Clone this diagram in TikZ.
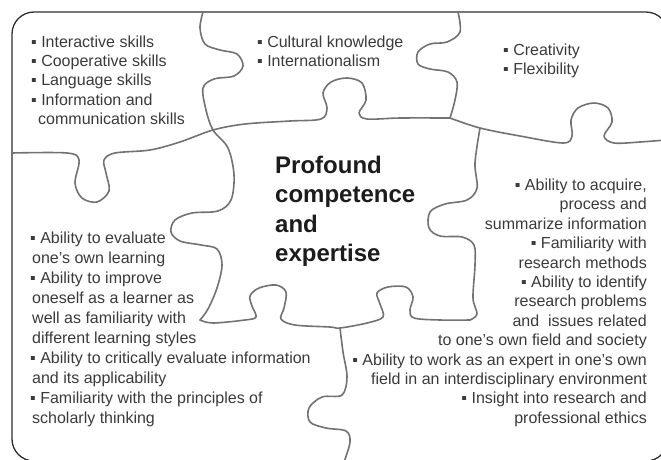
\documentclass[tikz,border=0pt]{standalone}
\usepackage{fontspec}
\setmainfont{Liberation Sans}
\definecolor{seamgray}{HTML}{727272}
\definecolor{outlinegray}{HTML}{2E2E2E}
\definecolor{bodytext}{HTML}{3A3A3A}
\definecolor{titletext}{HTML}{1C1C1C}
\begin{document}
\begin{tikzpicture}[x=1pt,y=-1pt,
  seam/.style={draw=seamgray, line width=1.6pt, line join=round, line cap=round},
  outline/.style={draw=outlinegray, line width=1.3pt},
  body/.style={inner sep=0pt, text=bodytext, font=\fontsize{16}{19}\selectfont},
  lt/.style={body, anchor=base west},
  rt/.style={body, anchor=base east},
  headline/.style={inner sep=0pt, anchor=base west, text=titletext,
    font=\fontsize{24}{29}\selectfont\bfseries}]

\useasboundingbox (0,0) rectangle (661,459);

% outer board, running off the right and bottom edges
\begin{scope}
  \clip (0,0) rectangle (661,459);
  \draw[outline, rounded corners=22pt] (12,12) rectangle (668,461);

  % seam between top-left and top-middle pieces, continuing as the centre's left edge
  \draw[seam] plot[smooth, tension=0.55] coordinates {
    (203,12) (200,28) (205,44) (220,50) (237,54) (243,66) (234,76) (214,79)
    (203,88) (206,110) (213,130) (228,148) (234,175) (231,200) (218,211)
    (192,213) (175,220) (171,232) (180,241) (201,245) (217,249) (222,265)
    (217,288) (208,309) (200,320)};

  % bottom edge of the centre piece
  \draw[seam] plot[smooth, tension=0.55] coordinates {
    (200,320) (213,323) (245,320) (256,317) (252,306) (250,296) (259,288)
    (276,285) (286,292) (284,308) (281,319) (295,325) (330,327) (340,328)
    (367,323) (383,317) (380,304) (377,293) (388,287) (406,287) (413,297)
    (410,310) (414,318) (440,320) (470,320)};

  % right edge of the centre piece
  \draw[seam] plot[smooth, tension=0.55] coordinates {
    (470,320) (477,314) (473,298) (475,265) (474,245) (462,237) (440,236)
    (429,228) (430,212) (445,204) (467,200) (477,188) (475,163) (480,128)};

  % long horizontal seam from the left border to the junction
  \draw[seam] plot[smooth, tension=0.55] coordinates {
    (12,153) (67,153) (79,160) (75,183) (82,198) (97,202) (109,191) (106,173)
    (104,160) (115,153) (150,150) (180,142) (213,130) (245,124) (290,121)
    (321,119) (327,108) (323,93) (331,82) (347,78) (362,83) (366,100)
    (359,113) (367,119) (400,118) (450,118)};

  % horizontal seam on the right
  \draw[seam] plot[smooth, tension=0.55] coordinates {
    (450,118) (480,128) (520,136) (563,143) (572,136) (571,120) (578,108)
    (594,103) (608,108) (612,122) (604,136) (614,143) (640,142) (665,140)};

  % seam between top-middle and top-right pieces
  \draw[seam] plot[smooth, tension=0.55] coordinates {
    (458,12) (460,32) (447,42) (430,44) (418,52) (418,64) (430,69) (448,72)
    (457,82) (455,100) (450,118)};

  % seam between the two bottom pieces
  \draw[seam] plot[smooth, tension=0.55] coordinates {
    (340,328) (343,352) (347,377) (342,395) (322,397) (309,408) (310,422)
    (326,428) (346,431) (350,442) (344,462)};
\end{scope}

% top-left piece
\node[lt] (tl1) at (31,47)    {▪ Interactive skills};
\node[lt] (tl2) at (31,66)    {▪ Cooperative skills};
\node[lt] (tl3) at (31,85.5)  {▪ Language skills};
\node[lt] (tl4) at (31,105)   {▪ Information and};
\node[lt] (tl5) at (38,124)   {communication skills};

% top-middle piece
\node[lt] (tm1) at (257,47)   {▪ Cultural knowledge};
\node[lt] (tm2) at (257,66.5) {▪ Internationalism};

% top-right piece
\node[lt] (tr1) at (503,55)   {▪ Creativity};
\node[lt] (tr2) at (503,74)   {▪ Flexibility};

% centre piece
\node[headline] (c1) at (275,173)   {Profound};
\node[headline] (c2) at (275,202.5) {competence};
\node[headline] (c3) at (275,232)   {and};
\node[headline] (c4) at (275,261)   {expertise};

% right piece
\node[rt] (r1)  at (647,190.5) {▪ Ability to acquire,};
\node[rt] (r2)  at (647,209.9) {process and\ };
\node[rt] (r3)  at (647,229.3) {summarize information};
\node[rt] (r4)  at (647,248.7) {▪ Familiarity with};
\node[rt] (r5)  at (647,268.1) {research methods};
\node[rt] (r6)  at (647,287.5) {▪ Ability to identify};
\node[rt] (r7)  at (647,306.9) {research problems};
\node[rt] (r8)  at (647,326.3) {and \ issues related};
\node[rt] (r9)  at (647,345.7) {to one's own field and society\ };
\node[rt] (r10) at (647,365.1) {▪ Ability to work as an expert in one's own};
\node[rt] (r11) at (647,384.5) {field in an interdisciplinary environment};
\node[rt] (r12) at (647,403.9) {▪ Insight into research and};
\node[rt] (r13) at (647,423.3) {professional ethics};

% left piece
\node[lt] (l1)  at (30,243) {▪ Ability to evaluate};
\node[lt] (l2)  at (32,263) {one's own learning};
\node[lt] (l3)  at (30,283) {▪ Ability to improve};
\node[lt] (l4)  at (32,303) {oneself as a learner as};
\node[lt] (l5)  at (32,323) {well as familiarity with};
\node[lt] (l6)  at (32,343) {different learning styles};
\node[lt] (l7)  at (30,363) {▪ Ability to critically evaluate information};
\node[lt] (l8)  at (32,383) {and its applicability};
\node[lt] (l9)  at (30,403) {▪ Familiarity with the principles of};
\node[lt] (l10) at (32,423) {scholarly thinking};
\end{tikzpicture}
\end{document}
